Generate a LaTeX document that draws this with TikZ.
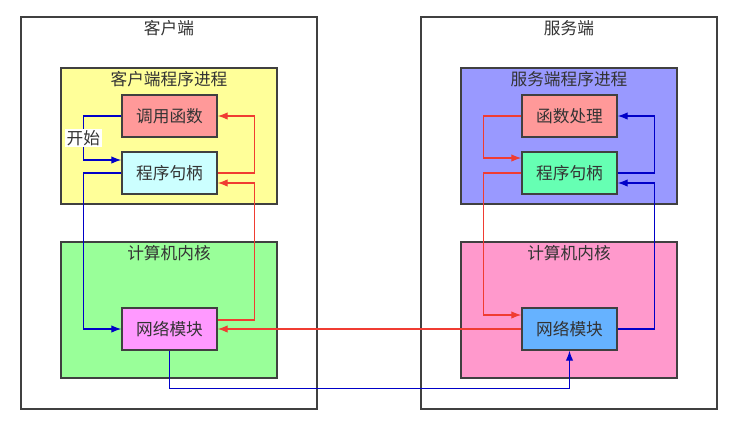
\documentclass[tikz,border=0pt]{standalone}
\usepackage{fontspec}
\setmainfont{Noto Sans CJK SC}
\usepackage{tikz}
\usetikzlibrary{arrows.meta,positioning}

\begin{document}
\begin{tikzpicture}[x=0.02cm, y=-0.02cm, font=\fontsize{9.5}{11}\selectfont, text=black!80,
      box/.style={draw=black!75, line width=0.8pt, minimum width=1.9cm, minimum height=0.84cm, inner sep=0pt},
      group/.style={draw=black!75, line width=0.8pt, minimum width=4.32cm, minimum height=2.72cm, inner sep=0pt},
      side/.style={draw=black!75, line width=0.8pt, fill=white, minimum width=5.92cm, minimum height=7.84cm, inner sep=0pt},
      title/.style={below=1pt, inner sep=1pt},
      rline/.style={draw={rgb,255:red,240;green,60;blue,50}, line width=0.75pt, -{Latex[length=0.2cm,width=0.15cm]}},
      bline/.style={draw={rgb,255:red,0;green,0;blue,200}, line width=0.75pt, -{Latex[length=0.2cm,width=0.15cm]}}]
      \useasboundingbox[fill=white] (0,0) rectangle (731,424);
      % 客户端
      \node[side] (client) at (169,213) {};
      \node[title] (clientt) at (client.north) {客户端};
      \node[group, fill={rgb,255:red,255;green,255;blue,153}] (cproc) at (169,136) {};
      \node[title] (cproct) at (cproc.north) {客户端程序进程};
      \node[group, fill={rgb,255:red,153;green,255;blue,153}] (ckern) at (169,310) {};
      \node[title] (ckernt) at (ckern.north) {计算机内核};
      \node[box, fill={rgb,255:red,255;green,153;blue,153}] (call) at (169.5,116) {调用函数};
      \node[box, fill={rgb,255:red,204;green,255;blue,255}] (chdl) at (169.5,173) {程序句柄};
      \node[box, fill={rgb,255:red,255;green,153;blue,255}] (cnet) at (169.5,329) {网络模块};
      % 服务端
      \node[side] (server) at (569,213) {};
      \node[title] (servert) at (server.north) {服务端};
      \node[group, fill={rgb,255:red,153;green,153;blue,255}] (sproc) at (569,136) {};
      \node[title] (sproct) at (sproc.north) {服务端程序进程};
      \node[group, fill={rgb,255:red,255;green,153;blue,204}] (skern) at (569,310) {};
      \node[title] (skernt) at (skern.north) {计算机内核};
      \node[box, fill={rgb,255:red,255;green,153;blue,153}] (sfun) at (569.5,116) {函数处理};
      \node[box, fill={rgb,255:red,102;green,255;blue,179}] (shdl) at (569.5,173) {程序句柄};
      \node[box, fill={rgb,255:red,102;green,178;blue,255}] (snet) at (569.5,329) {网络模块};
      % 客户端连线
      \draw[bline] (call.west) -- ++(-38,0) |- node[pos=.25, fill=white, inner sep=1pt] (start) {开始} ([yshift=0.26cm]chdl.west);
      \draw[bline] (chdl.west) -- ++(-38,0) |- (cnet.west);
      \draw[rline] (chdl.east) -- ++(37,0) |- (call.east);
      \draw[rline] ([yshift=0.18cm]cnet.east) -- ++(37,0) |- ([yshift=-0.2cm]chdl.east);
      % 两端之间
      \draw[rline] (snet.west) -- (cnet.east);
      \draw[bline] (cnet.south) -- ++(0,38) -| (snet.south);
      % 服务端连线
      \draw[rline] (sfun.west) -- ++(-38,0) |- ([yshift=0.3cm]shdl.west);
      \draw[rline] (shdl.west) -- ++(-38,0) |- ([yshift=0.28cm]snet.west);
      \draw[bline] (snet.east) -- ++(37,0) |- ([yshift=-0.2cm]shdl.east);
      \draw[bline] (shdl.east) -- ++(37,0) |- (sfun.east);
\end{tikzpicture}
\end{document}
